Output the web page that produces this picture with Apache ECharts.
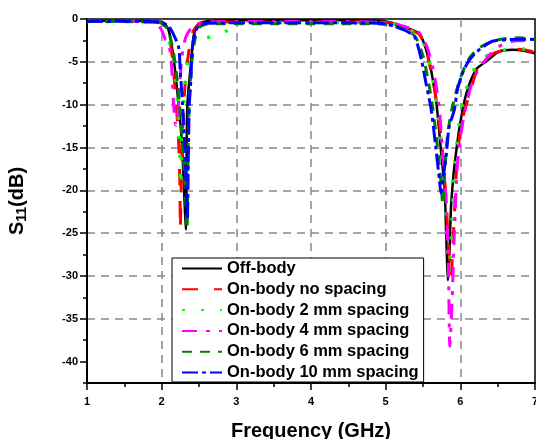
<!DOCTYPE html>
<html>
<head>
<meta charset="utf-8">
<script src="https://cdn.jsdelivr.net/npm/echarts@6/dist/echarts.min.js"></script>
<style>
html,body{margin:0;padding:0;background:#fff;}
#chart{width:536px;height:439px;}
</style>
</head>
<body>
<div id="chart"></div>
<script>
// ---- Data ----
const seriesNames = ['Off-body','On-body no spacing','On-body 2 mm spacing','On-body 4 mm spacing','On-body 6 mm spacing','On-body 10 mm spacing'];

const offBodyFreq = [1.0,1.5,1.8,1.95,2.0,2.05,2.1,2.16,2.21,2.253,2.28,2.30,2.315,2.325,2.332,2.338,2.35,2.39,2.43,2.48,2.55,2.7,3.0,3.5,4.0,4.5,4.9,5.0,5.1,5.2,5.3,5.45,5.52,5.59,5.64,5.68,5.74,5.79,5.81,5.835,5.855,5.875,5.9,5.92,5.99,6.08,6.21,6.34,6.52,6.7,6.85,7.0];
const offBodyS11  = [-0.2,-0.2,-0.22,-0.3,-0.35,-0.6,-1.5,-4.6,-8.5,-12.4,-16,-20,-23,-24.6,-18,-12,-9.2,-5.4,-1.9,-0.7,-0.35,-0.2,-0.15,-0.15,-0.15,-0.15,-0.2,-0.3,-0.5,-0.8,-1.1,-1.7,-3.0,-5.2,-7.5,-9.8,-15.3,-19.9,-25,-30.5,-27,-22,-19,-17.2,-12.6,-8.7,-5.9,-5.0,-3.8,-3.6,-3.7,-4.0];

const noSpacingFreq = [1.0,1.5,1.8,1.95,2.0,2.05,2.1,2.15,2.19,2.22,2.235,2.245,2.25,2.26,2.28,2.31,2.36,2.42,2.5,2.6,3.0,3.5,4.0,4.5,4.9,5.0,5.1,5.2,5.3,5.45,5.53,5.6,5.66,5.71,5.76,5.8,5.84,5.876,5.9,5.92,5.96,6.03,6.14,6.23,6.39,6.52,6.69,6.85,7.0];
const noSpacingS11  = [-0.25,-0.25,-0.3,-0.4,-0.45,-0.8,-2.0,-5.0,-9.5,-13,-16,-20,-24.5,-20,-13,-8,-4,-1.5,-0.6,-0.4,-0.35,-0.35,-0.35,-0.35,-0.35,-0.4,-0.5,-0.8,-1.1,-1.8,-3.2,-5.8,-8.5,-11.5,-15.3,-20,-26,-30,-26.5,-23,-16,-11.6,-8.3,-5.8,-4.3,-3.8,-3.5,-3.6,-3.9];

const mm2Freq = [1.0,1.5,1.8,1.95,2.0,2.06,2.12,2.18,2.22,2.24,2.255,2.27,2.3,2.35,2.42,2.5,2.6,2.7,2.8,2.88,2.95,3.05,3.5,4.0,4.5,4.9,5.0,5.1,5.2,5.3,5.45,5.53,5.6,5.66,5.71,5.75,5.8,5.85,5.88,5.92,5.98,6.05,6.15,6.25,6.4,6.55,6.7,6.85,7.0];
const mm2S11  = [-0.3,-0.3,-0.35,-0.4,-0.5,-1.2,-3.2,-6.5,-11,-15,-19.5,-15,-9,-5,-3,-2.4,-2.2,-2.0,-1.8,-1.3,-0.7,-0.45,-0.4,-0.4,-0.4,-0.4,-0.45,-0.55,-0.85,-1.2,-1.9,-3.3,-5.5,-8.5,-11.5,-15,-21,-29.7,-25,-18,-12.5,-9,-6.5,-5.0,-4.1,-3.7,-3.5,-3.5,-3.6];

const mm4Freq = [1.0,1.5,1.8,1.9,1.95,2.0,2.05,2.09,2.12,2.14,2.16,2.19,2.21,2.24,2.27,2.32,2.4,2.5,2.6,3.0,3.5,4.0,4.5,4.9,5.0,5.1,5.2,5.3,5.45,5.55,5.63,5.68,5.72,5.76,5.81,5.84,5.86,5.89,5.92,5.96,6.03,6.14,6.23,6.39,6.52,6.7,6.85,7.0];
const mm4S11  = [-0.25,-0.25,-0.3,-0.4,-0.7,-1.3,-2.4,-2.8,-4.2,-6.5,-10,-12.4,-12,-8,-4.5,-2.2,-1.0,-0.5,-0.35,-0.3,-0.3,-0.3,-0.3,-0.35,-0.4,-0.5,-0.75,-1.0,-1.6,-3.2,-5.6,-8,-10.6,-15.3,-21.1,-28.9,-38.2,-32.8,-25,-17.2,-12.2,-7.9,-6.1,-4.2,-3.2,-2.6,-2.5,-2.5];

const mm6Freq = [1.0,1.5,1.8,1.95,2.0,2.08,2.15,2.2,2.25,2.29,2.32,2.34,2.35,2.36,2.38,2.41,2.45,2.5,2.6,3.0,3.5,4.0,4.5,4.9,5.0,5.1,5.19,5.3,5.4,5.5,5.57,5.63,5.69,5.74,5.765,5.79,5.83,5.88,5.95,6.03,6.12,6.25,6.43,6.6,6.8,7.0];
const mm6S11  = [-0.3,-0.3,-0.35,-0.4,-0.5,-1.2,-3.5,-6.5,-11,-16,-21,-24.5,-18,-12,-8,-4.5,-2.2,-1.0,-0.6,-0.55,-0.55,-0.55,-0.55,-0.55,-0.6,-0.75,-1.0,-1.4,-2.1,-4.3,-7.2,-10.3,-14.7,-19,-21.7,-18,-13.5,-10.8,-8.3,-6.2,-4.6,-3.4,-2.6,-2.3,-2.2,-2.4];

const mm10Freq = [1.0,1.5,1.8,1.95,2.0,2.1,2.18,2.23,2.25,2.28,2.31,2.33,2.345,2.355,2.37,2.39,2.41,2.45,2.5,2.6,3.0,3.5,4.0,4.5,4.9,5.0,5.1,5.19,5.3,5.39,5.48,5.54,5.61,5.67,5.72,5.74,5.77,5.81,5.85,5.92,5.96,6.03,6.12,6.25,6.43,6.65,6.83,7.0];
const mm10S11  = [-0.25,-0.25,-0.3,-0.35,-0.4,-0.9,-2.2,-3.4,-6.2,-10,-15,-20,-23.4,-17,-10,-7.3,-3.4,-1.5,-0.8,-0.5,-0.45,-0.45,-0.45,-0.45,-0.5,-0.6,-0.8,-1.1,-1.5,-2.1,-4.8,-7.5,-10.6,-14.9,-18.8,-20.3,-18.5,-16,-12.6,-10.6,-8.3,-6.3,-4.8,-3.6,-2.6,-2.4,-2.35,-2.4];

const yMajorTicks = [-40,-35,-30,-25,-20,-15,-10,-5,0];
const yMinorTicks = [-42.5,-37.5,-32.5,-27.5,-22.5,-17.5,-12.5,-7.5,-2.5];

// ---- Chart ----
const FONT = '"Liberation Sans", Arial, sans-serif';
function pairs(xs, ys){ return xs.map((x,i)=>[x, ys[i]]); }

const styles = [
  {color:'#000000', width:2.5, type:'solid'},
  {color:'#ff0000', width:3, type:[16,16]},
  {color:'#00ff00', width:3.5, type:[3,16]},
  {color:'#ff00ff', width:3, type:[15,9,4,9]},
  {color:'#008000', width:3, type:[10,8]},
  {color:'#0000ff', width:3, type:[16,4,4,4]}
];
const allData = [
  pairs(offBodyFreq, offBodyS11),
  pairs(noSpacingFreq, noSpacingS11),
  pairs(mm2Freq, mm2S11),
  pairs(mm4Freq, mm4S11),
  pairs(mm6Freq, mm6S11),
  pairs(mm10Freq, mm10S11)
];

const chart = echarts.init(document.getElementById('chart'), null, {renderer:'canvas'});
const tickLabel = {color:'#000', fontSize:11, fontWeight:'bold', fontFamily:FONT};

chart.setOption({
  animation:false,
  backgroundColor:'#fff',
  grid:{left:87, right:1, top:19, bottom:56, containLabel:false, outerBoundsMode:'none',
        show:true, borderColor:'#000', borderWidth:1.5, backgroundColor:'transparent'},
  legend:{
    show:true, orient:'vertical', left:172, top:258,
    data: seriesNames,
    itemWidth:40, itemHeight:14, itemGap:3.8,
    padding:[2,5,1,9],
    backgroundColor:'#fff', borderColor:'#000', borderWidth:1,
    itemStyle:{opacity:0},
    textStyle:{color:'#000', fontSize:16.5, lineHeight:16, fontWeight:'bold', fontFamily:FONT}
  },
  xAxis:{
    type:'value', min:1, max:7, interval:1,
    name:'Frequency (GHz)', nameLocation:'middle', nameGap:38,
    nameTextStyle:{color:'#000', fontSize:20, fontWeight:'bold', fontFamily:FONT},
    axisLine:{show:true, onZero:false, lineStyle:{color:'#000', width:2}},
    axisTick:{show:true, inside:false, length:7, lineStyle:{color:'#000', width:1.5}},
    minorTick:{show:true, splitNumber:2, length:4, lineStyle:{color:'#000', width:1.5}},
    axisLabel:Object.assign({margin:13}, tickLabel),
    splitLine:{show:true, showMinLine:false, showMaxLine:false, lineStyle:{color:'#888', type:[8,6], width:1.5}}
  },
  yAxis:[{
    type:'value', min:-42.5, max:0,
    name:'{s|S}{sub|11}{s|(dB)}', nameLocation:'middle', nameGap:58,
    nameTextStyle:{color:'#000', fontSize:20, fontWeight:'bold', fontFamily:FONT,
      rich:{
        s:{fontSize:20, fontWeight:'bold', fontFamily:FONT, color:'#000'},
        sub:{fontSize:14, fontWeight:'bold', fontFamily:FONT, color:'#000', padding:[10,0,0,0]}
      }},
    axisLine:{show:true, onZero:false, lineStyle:{color:'#000', width:2}},
    axisTick:{show:true, inside:false, length:7, lineStyle:{color:'#000', width:1.5}, customValues:yMajorTicks},
    axisLabel:Object.assign({margin:9, customValues:yMajorTicks}, tickLabel),
    splitLine:{show:true, showMinLine:false, showMaxLine:false, lineStyle:{color:'#888', type:[8,6], width:1.5}}
  },{
    type:'value', min:-42.5, max:0, position:'left',
    axisLine:{show:false},
    axisTick:{show:true, inside:false, length:4, lineStyle:{color:'#000', width:1.5}, customValues:yMinorTicks},
    axisLabel:{show:false},
    splitLine:{show:false}
  }],
  series: allData.map((d,i)=>({
    name: seriesNames[i], type:'line', data:d, yAxisIndex:0,
    showSymbol:false, symbol:'none', smooth:0.25,
    lineStyle:{color:styles[i].color, width:styles[i].width, type:styles[i].type},
    itemStyle:{color:styles[i].color},
    z: 2 + i
  }))
});
</script>
</body>
</html>
